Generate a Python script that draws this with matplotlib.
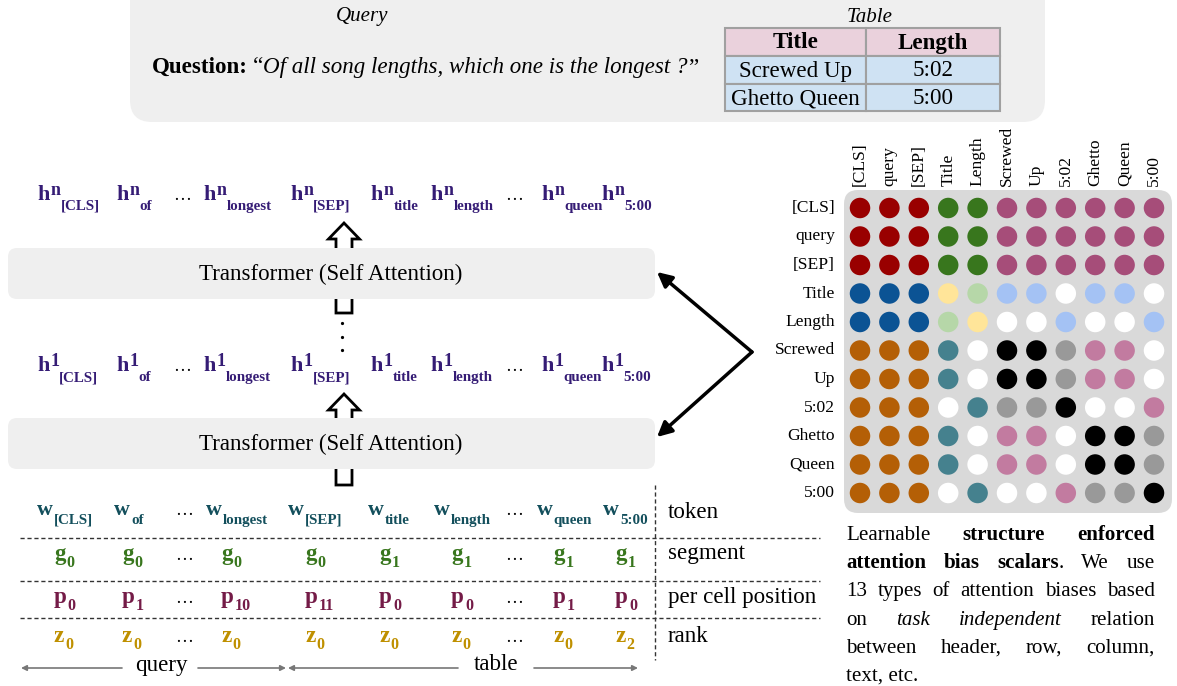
import matplotlib
matplotlib.use("Agg")
import matplotlib.pyplot as plt
from matplotlib.patches import FancyBboxPatch, Rectangle, Polygon

plt.rcParams['font.family'] = ['Liberation Serif', 'DejaVu Serif']

# ---------------- data ----------------
query_title = "Query"
table_title = "Table"
question_label = "Question:"
question_text = "Of all song lengths, which one is the longest ?"
table_header = ["Title", "Length"]
table_rows = [["Screwed Up", "5:02"], ["Ghetto Queen", "5:00"]]

token_subs = ["[CLS]", "of", None, "longest", "[SEP]", "title", "length", None, "queen", "5:00"]
segment_ids = ["0", "0", None, "0", "0", "1", "1", None, "1", "1"]
position_ids = ["0", "1", None, "10", "11", "0", "0", None, "1", "0"]
rank_ids = ["0", "0", None, "0", "0", "0", "0", None, "0", "2"]
embed_names = ["token", "segment", "per cell position", "rank"]
span_names = ["query", "table"]
layer_name = "Transformer (Self Attention)"

bias_labels = ["[CLS]", "query", "[SEP]", "Title", "Length", "Screwed", "Up",
               "5:02", "Ghetto", "Queen", "5:00"]
bias_types = [
    "R R R G G M M M M M M",
    "R R R G G M M M M M M",
    "R R R G G M M M M M M",
    "B B B Y L C C W C C W",
    "B B B L Y W W C W W C",
    "O O O T W K K A P P W",
    "O O O T W K K A P P W",
    "O O O W T A A K W W P",
    "O O O T W P P W K K A",
    "O O O T W P P W K K A",
    "O O O W T W W P A A K",
]

# ---------------- styles ----------------
bias_colors = {"R": "#990000", "G": "#38761d", "M": "#a64d79", "B": "#0b5394",
               "Y": "#ffe599", "L": "#b6d7a8", "C": "#a4c2f4", "W": "#ffffff",
               "O": "#b45f06", "T": "#45818e", "K": "#000000", "A": "#999999",
               "P": "#c27ba0"}
H_COLOR = "#351c75"
W_COLOR = "#134f5c"
G_COLOR = "#38761d"
P_COLOR = "#741b47"
Z_COLOR = "#bf9000"

W, H = 1177, 686
fig = plt.figure(figsize=(W / 100, H / 100), dpi=100)
ax = fig.add_axes([0, 0, 1, 1])
ax.set_xlim(0, W)
ax.set_ylim(H, 0)
ax.axis('off')
renderer = fig.canvas.get_renderer()


def pt(px):
    return px * 72 / 100


def width(t):
    return t.get_window_extent(renderer).width


BIG = 23

# ---------------- top panel ----------------
ax.add_patch(FancyBboxPatch((130, -40), 915, 162, boxstyle="round,pad=0,rounding_size=22",
                            fc="#efefef", ec="none", zorder=0))
ax.text(362, 17, query_title, style='italic', fontsize=pt(21), ha='center', va='center')
ax.text(870, 17, table_title, style='italic', fontsize=pt(21), ha='center', va='center')

x = 152
yq = 73
t = ax.text(x, yq, question_label, fontweight='bold', fontsize=pt(BIG), va='baseline')
x += width(t) + 5
t = ax.text(x, yq, "\u201c", fontsize=pt(BIG), va='baseline')
x += width(t)
t = ax.text(x, yq, question_text, style='italic', fontsize=pt(BIG), va='baseline')
x += width(t)
ax.text(x, yq, "\u201d", fontsize=pt(BIG), va='baseline')

col_edges = [725, 866, 1000]
row_edges = [28, 56, 84, 111]
for r in range(3):
    for c in range(2):
        fc = "#ead1dc" if r == 0 else "#cfe2f3"
        ax.add_patch(Rectangle((col_edges[c], row_edges[r]), col_edges[c + 1] - col_edges[c],
                               row_edges[r + 1] - row_edges[r], fc=fc, ec="#a0a0a0", lw=1.5, zorder=1))
        txt = table_header[c] if r == 0 else table_rows[r - 1][c]
        ax.text((col_edges[c] + col_edges[c + 1]) / 2, (row_edges[r] + row_edges[r + 1]) / 2 + 1, txt,
                fontsize=pt(BIG), fontweight='bold' if r == 0 else 'normal',
                ha='center', va='center', zorder=2)


# ---------------- hollow arrows ----------------
def hollow_arrow(xc, ybot, ytip, sw=16, hw=31, hl=16):
    pts = [(xc - sw / 2, ybot), (xc - sw / 2, ytip + hl), (xc - hw / 2, ytip + hl), (xc, ytip),
           (xc + hw / 2, ytip + hl), (xc + sw / 2, ytip + hl), (xc + sw / 2, ybot)]
    ax.add_patch(Polygon(pts, closed=True, fc="white", ec="black", lw=2, zorder=1, joinstyle='miter'))


hollow_arrow(344, 313, 223)
hollow_arrow(344, 485, 394)
for yy in (323, 337, 350):
    ax.plot(342, yy, marker='o', ms=1.3, color='black', zorder=3)

# transformer boxes
for ytop in (248, 418):
    ax.add_patch(FancyBboxPatch((8, ytop), 647, 51, boxstyle="round,pad=0,rounding_size=9",
                                fc="#efefef", ec="none", zorder=2))
    ax.text(331, ytop + 26, layer_name, fontsize=pt(BIG), ha='center', va='center', zorder=3)


# ---------------- token rows ----------------
def token(x, yb, base, sup, sub, color, bsize, supsize, ssize, sup_dy, sub_dy):
    t = ax.text(x, yb, base, fontsize=pt(bsize), fontweight='bold', color=color, va='baseline')
    x += width(t) + 1
    if sup is not None:
        t2 = ax.text(x, yb - sup_dy, sup, fontsize=pt(supsize), fontweight='bold', color=color, va='baseline')
        x += width(t2)
    if sub is not None:
        ax.text(x, yb + sub_dy, sub, fontsize=pt(ssize), fontweight='bold', color=color, va='baseline')


h_x = [37, 116, 173, 203, 290, 370, 430, 505, 541, 601]
for layer, yb in (("n", 200), ("1", 371)):
    for xi, sub in zip(h_x, token_subs):
        if sub is None:
            ax.text(xi, yb, "\u2026", fontsize=pt(18), va='baseline')
        else:
            token(xi, yb, "h", layer, sub, H_COLOR, 22, 18, 15, 5, 10)

w_x = [37, 114, 175, 206, 288, 368, 434, 505, 537, 603]
for xi, sub in zip(w_x, token_subs):
    if sub is None:
        ax.text(xi, 515, "\u2026", fontsize=pt(18), va='baseline')
    else:
        token(xi, 515, "w", None, sub, W_COLOR, 22, 15, 15, 0, 9)

g_x = [54, 122, 175, 221, 305, 379, 451, 505, 553, 615]
for ids, base, color, yb in ((segment_ids, "g", G_COLOR, 560), (position_ids, "p", P_COLOR, 603),
                             (rank_ids, "z", Z_COLOR, 642)):
    for xi, sub in zip(g_x, ids):
        if sub is None:
            ax.text(xi, yb, "\u2026", fontsize=pt(18), va='baseline')
        else:
            token(xi, yb, base, None, sub, color, 23, 16, 16, 0, 7)

for name, yc in zip(embed_names, (512, 553, 598, 637)):
    ax.text(668, yc, name, fontsize=pt(BIG), va='center')

for yy in (538, 581, 618):
    ax.plot([20, 820], [yy, yy], ls=(0, (3, 2)), color='#333333', lw=1)
ax.plot([655, 655], [485, 660], ls=(0, (3, 2)), color='#333333', lw=1)

# query / table spans
arrow_kw = dict(arrowstyle='-|>', color='#777777', lw=1.2, mutation_scale=8, shrinkA=0, shrinkB=0)
ax.annotate("", xy=(21, 668), xytext=(122, 668), arrowprops=arrow_kw)
ax.annotate("", xy=(286, 668), xytext=(198, 668), arrowprops=arrow_kw)
ax.annotate("", xy=(288, 668), xytext=(458, 668), arrowprops=arrow_kw)
ax.annotate("", xy=(638, 668), xytext=(534, 668), arrowprops=arrow_kw)
ax.text(161, 665, span_names[0], fontsize=pt(BIG), ha='center', va='center')
ax.text(496, 665, span_names[1], fontsize=pt(BIG), ha='center', va='center')

# black arrows to transformer layers
big_kw = dict(arrowstyle='-|>', color='black', lw=2.5, mutation_scale=22, shrinkA=0, shrinkB=0)
ax.annotate("", xy=(657, 272), xytext=(752, 352), arrowprops=big_kw)
ax.annotate("", xy=(657, 437), xytext=(752, 352), arrowprops=big_kw)

# ---------------- bias matrix ----------------
ax.add_patch(FancyBboxPatch((844, 190), 328, 323, boxstyle="round,pad=0,rounding_size=14",
                            fc="#d9d9d9", ec="none", zorder=0))
cx0, dx = 860, 29.4
cy0, dy = 208, 28.5
xs, ys, cs = [], [], []
for i, row in enumerate(bias_types):
    for j, code in enumerate(row.split()):
        xs.append(cx0 + j * dx)
        ys.append(cy0 + i * dy)
        cs.append(bias_colors[code])
ax.scatter(xs, ys, s=pt(20.5) ** 2, c=cs, edgecolors='none', zorder=2)
for j, lab in enumerate(bias_labels):
    ax.text(cx0 + j * dx, 186, lab, rotation=90, fontsize=pt(17.5), ha='center', va='bottom')
for i, lab in enumerate(bias_labels):
    ax.text(835, cy0 + i * dy, lab, fontsize=pt(17.5), ha='right', va='center')

# ---------------- caption (justified) ----------------
caption_lines = [
    [[("Learnable", 'normal', 'normal')], [("structure", 'bold', 'normal')], [("enforced", 'bold', 'normal')]],
    [[("attention", 'bold', 'normal')], [("bias", 'bold', 'normal')],
     [("scalars", 'bold', 'normal'), (".", 'normal', 'normal')], [("We", 'normal', 'normal')],
     [("use", 'normal', 'normal')]],
    [[(w_, 'normal', 'normal')] for w_ in "13 types of attention biases based".split()],
    [[("on", 'normal', 'normal')], [("task", 'normal', 'italic')], [("independent", 'normal', 'italic')],
     [("relation", 'normal', 'normal')]],
    [[(w_, 'normal', 'normal')] for w_ in "between header, row, column,".split()],
    [[("text, etc.", 'normal', 'normal')]],
]
cap_x0, cap_x1 = 846, 1155
cap_y0, cap_dy = 540, 28.2
for li, words in enumerate(caption_lines):
    yb = cap_y0 + li * cap_dy
    arts = []
    for word in words:
        parts = []
        for txt, wt, st in word:
            parts.append(ax.text(0, yb, txt, fontsize=pt(21), fontweight=wt, style=st, va='baseline'))
        arts.append(parts)
    widths = [sum(width(p) for p in parts) for parts in arts]
    last = li == len(caption_lines) - 1
    gap = 5 if (last or len(arts) == 1) else (cap_x1 - cap_x0 - sum(widths)) / (len(arts) - 1)
    x = cap_x0
    for parts, wsum in zip(arts, widths):
        xx = x
        for p in parts:
            p.set_x(xx)
            xx += width(p)
        x += wsum + gap

fig.savefig("out.png", dpi=100)
